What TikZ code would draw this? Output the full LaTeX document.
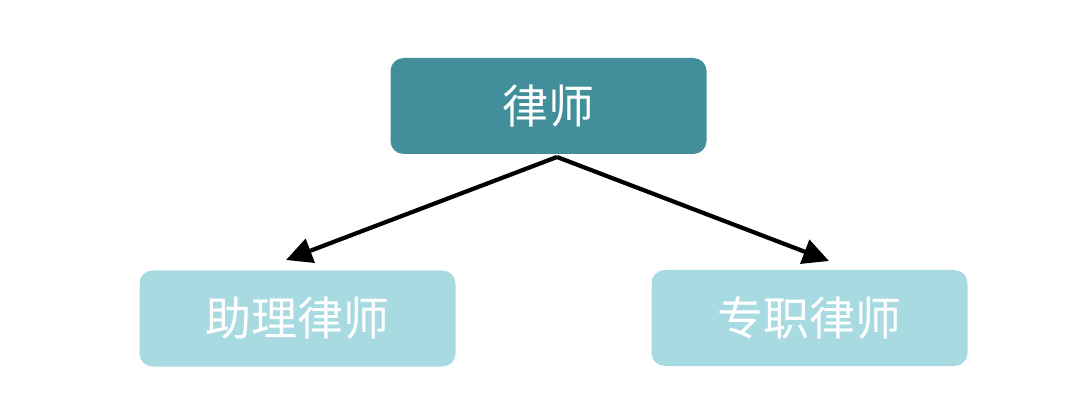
\documentclass[tikz,border=0pt]{standalone}
\usepackage{fontspec}
\newfontfamily\cjk{Noto Sans CJK SC}
\usetikzlibrary{arrows.meta}
\definecolor{topc}{HTML}{428F9B}
\definecolor{subc}{HTML}{A8DAE2}
\tikzset{
  boxbase/.style={rounded corners=13pt, minimum width=316pt, minimum height=96pt, inner sep=0pt, text=white, font=\cjk\fontsize{46pt}{52pt}\selectfont},
  topbox/.style={boxbase, fill=topc},
  subbox/.style={boxbase, fill=subc},
  conn/.style={line width=4.2pt, -{Triangle[length=26pt,width=25pt]}}
}
\begin{document}
\begin{tikzpicture}[x=1pt,y=-1pt]
\useasboundingbox (0,0) rectangle (1080,406);
\node[topbox] (law) at (548.5,106) {律师};
\node[subbox] (asst) at (297.5,318.5) {助理律师};
\node[subbox] (full) at (809.5,318) {专职律师};
\coordinate (apex) at (557,157);
\coordinate (lt) at (286,260);
\coordinate (rt) at (829,261);
\draw[conn] (apex) -- (lt);
\draw[conn] (apex) -- (rt);
\end{tikzpicture}
\end{document}
